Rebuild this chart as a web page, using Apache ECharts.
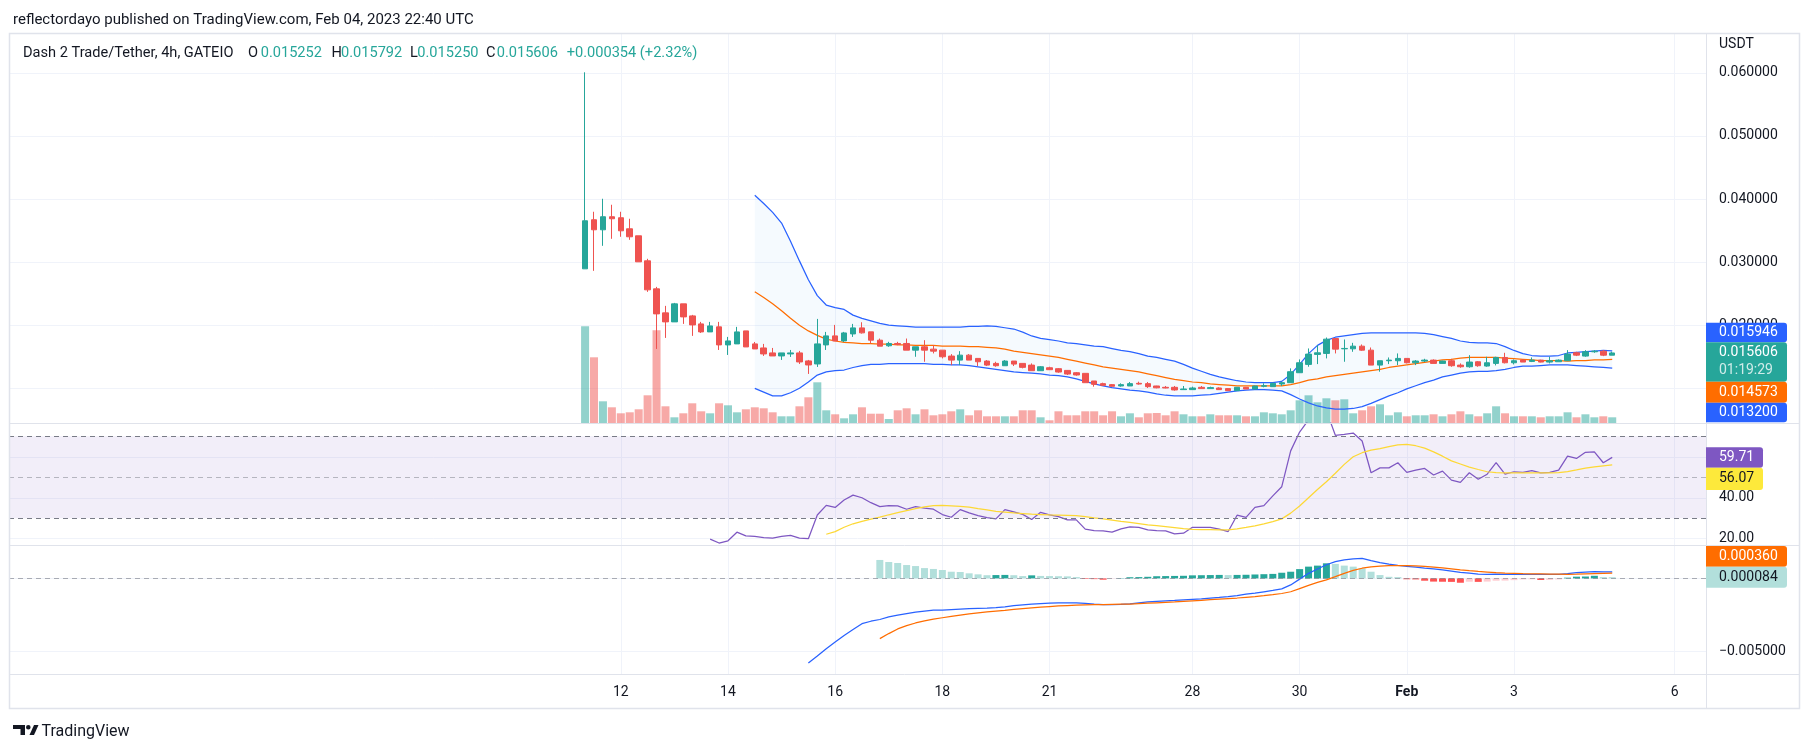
<!DOCTYPE html>
<html><head><meta charset="utf-8">
<script src="https://cdn.jsdelivr.net/npm/echarts@6/dist/echarts.min.js"></script>
<style>html,body{margin:0;padding:0;background:#fff;}#c{width:1814px;height:753px;}</style>
</head><body><div id="c"></div>
<script>
// ---------- DATA ----------
const opens = [0.02894,0.03672,0.03513,0.03720,0.03704,0.03529,0.03418,0.03021,0.02577,0.02196,
0.02053,0.02339,0.02148,0.02021,0.01894,0.01974,0.01688,0.01704,0.01910,0.01704,
0.01640,0.01561,0.01513,0.01545,0.01561,0.01434,0.01386,0.01688,0.01831,0.01751,
0.01862,0.01958,0.01895,0.01763,0.01674,0.01711,0.01711,0.01605,0.01658,0.01621,
0.01605,0.01511,0.01447,0.01526,0.01474,0.01432,0.01395,0.01358,0.01432,0.01395,
0.01368,0.01279,0.01326,0.01311,0.01284,0.01247,0.01237,0.01116,0.01074,0.01058,
0.01037,0.01037,0.01079,0.01074,0.01037,0.01016,0.01016,0.00979,0.00979,0.01016,
0.00995,0.01005,0.00995,0.00963,0.01016,0.00989,0.01032,0.01026,0.01068,0.01089,
0.01247,0.01379,0.01537,0.01553,0.01789,0.01626,0.01626,0.01668,0.01605,0.01368,
0.01437,0.01437,0.01474,0.01405,0.01432,0.01447,0.01395,0.01437,0.01368,0.01342,
0.01421,0.01353,0.01395,0.01489,0.01405,0.01447,0.01426,0.01447,0.01416,0.01421,
0.01437,0.01563,0.01511,0.01579,0.01589,0.015252];
const highs = [0.06010,0.03799,0.04005,0.03910,0.03799,0.03688,0.03418,0.03053,0.02608,0.02307,
0.02354,0.02339,0.02164,0.02053,0.02053,0.02053,0.01815,0.01974,0.01910,0.01735,
0.01704,0.01640,0.01561,0.01608,0.01593,0.01450,0.02100,0.01894,0.02005,0.01894,
0.02021,0.02047,0.01895,0.01789,0.01737,0.01737,0.01789,0.01658,0.01763,0.01684,
0.01605,0.01542,0.01589,0.01542,0.01474,0.01447,0.01421,0.01447,0.01432,0.01395,
0.01395,0.01353,0.01342,0.01321,0.01290,0.01258,0.01237,0.01116,0.01089,0.01068,
0.01079,0.01100,0.01105,0.01100,0.01040,0.01037,0.01037,0.01037,0.01026,0.01037,
0.01026,0.01016,0.01000,0.01016,0.01021,0.01042,0.01079,0.01089,0.01105,0.01316,
0.01458,0.01632,0.01684,0.01805,0.01789,0.01774,0.01721,0.01695,0.01647,0.01437,
0.01489,0.01553,0.01474,0.01447,0.01468,0.01458,0.01437,0.01468,0.01395,0.01526,
0.01432,0.01500,0.01500,0.01563,0.01458,0.01458,0.01489,0.01453,0.01500,0.01458,
0.01605,0.01579,0.01605,0.01605,0.01605,0.015792];
const lows = [0.02894,0.02862,0.03259,0.03370,0.03402,0.03354,0.03005,0.02529,0.01624,0.01799,
0.02053,0.02021,0.01831,0.01878,0.01894,0.01608,0.01529,0.01704,0.01656,0.01624,
0.01513,0.01513,0.01450,0.01497,0.01386,0.01228,0.01339,0.01608,0.01751,0.01735,
0.01815,0.01868,0.01711,0.01668,0.01658,0.01684,0.01605,0.01500,0.01421,0.01553,
0.01474,0.01368,0.01368,0.01447,0.01353,0.01353,0.01342,0.01358,0.01353,0.01316,
0.01279,0.01279,0.01290,0.01247,0.01211,0.01200,0.01089,0.01026,0.01037,0.01026,
0.01026,0.01037,0.01058,0.01005,0.01000,0.01000,0.00963,0.00979,0.00979,0.00995,
0.00995,0.00974,0.00963,0.00963,0.00989,0.00989,0.01016,0.01026,0.01037,0.01089,
0.01247,0.01342,0.01384,0.01474,0.01553,0.01421,0.01579,0.01595,0.01368,0.01263,
0.01384,0.01368,0.01395,0.01368,0.01416,0.01395,0.01395,0.01342,0.01326,0.01326,
0.01342,0.01342,0.01363,0.01395,0.01379,0.01416,0.01416,0.01411,0.01395,0.01421,
0.01437,0.01511,0.01500,0.01563,0.01510,0.015250];
const closes = [0.03656,0.03513,0.03720,0.03688,0.03497,0.03402,0.03005,0.02561,0.02180,0.02053,
0.02339,0.02132,0.02005,0.01894,0.01989,0.01688,0.01751,0.01894,0.01656,0.01624,
0.01545,0.01513,0.01561,0.01561,0.01418,0.01370,0.01704,0.01831,0.01751,0.01878,
0.01958,0.01879,0.01763,0.01668,0.01711,0.01695,0.01605,0.01658,0.01605,0.01589,
0.01500,0.01447,0.01526,0.01447,0.01421,0.01368,0.01358,0.01432,0.01384,0.01332,
0.01279,0.01342,0.01295,0.01258,0.01226,0.01211,0.01089,0.01063,0.01047,0.01032,
0.01058,0.01074,0.01068,0.01026,0.01008,0.01005,0.00974,0.00989,0.01005,0.00995,
0.01011,0.00979,0.00963,0.01016,0.00989,0.01037,0.01042,0.01079,0.01089,0.01263,
0.01405,0.01542,0.01563,0.01779,0.01621,0.01632,0.01668,0.01605,0.01368,0.01437,
0.01447,0.01474,0.01405,0.01432,0.01447,0.01395,0.01432,0.01358,0.01342,0.01416,
0.01358,0.01405,0.01489,0.01405,0.01437,0.01416,0.01447,0.01416,0.01437,0.01447,
0.01542,0.01526,0.01579,0.01589,0.015252,0.015606];
// volume (relative units, no scale shown)
const volumes = [96.7,65.7,21.7,15.7,9.7,10.7,13.7,27.7,92.7,16.7,
5.7,9.7,19.7,11.7,9.7,19.7,17.7,10.7,13.7,15.7,
14.7,10.7,6.7,6.7,16.7,25.7,40.7,12.7,8.7,4.7,
8.7,15.7,9.3,9.3,4.0,12.7,14.7,8.7,13.7,7.7,
8.7,11.7,13.7,7.7,12.7,6.7,6.7,6.7,6.7,12.7,
12.7,5.7,2.7,11.7,7.7,7.7,11.7,11.7,7.7,11.7,
6.7,9.7,5.7,9.7,10.0,7.7,11.7,8.7,6.7,6.7,
8.7,7.7,7.7,7.7,6.7,6.7,10.7,9.7,8.7,12.7,
22.7,27.7,20.7,24.7,22.7,23.7,9.7,12.7,16.7,18.7,
7.7,10.7,6.7,7.7,7.7,8.7,6.7,8.7,11.7,8.7,
6.7,9.7,16.7,9.7,6.7,6.7,6.7,5.7,6.7,6.7,
10.7,5.7,8.7,5.7,6.7,5.7];
// Bollinger bands, from bar 19
const bbStart = 19;
const bbUpper = [0.0406,0.0393,0.0379,0.0362,0.0333,0.0302,0.0272,0.0247,0.0232,0.0228,
0.0225,0.0216,0.0211,0.0207,0.0203,0.0200,0.0199,0.0198,0.0197,0.0197,
0.0197,0.0197,0.0197,0.0197,0.0198,0.0198,0.0199,0.0198,0.0196,0.0194,
0.0189,0.0183,0.0179,0.0177,0.0175,0.0172,0.0171,0.0169,0.0167,0.0166,
0.0163,0.0160,0.0158,0.0155,0.0151,0.0149,0.0146,0.0143,0.0138,0.0132,
0.0127,0.0122,0.0118,0.0115,0.0112,0.0110,0.0109,0.0109,0.0109,0.0111,
0.0122,0.0138,0.0155,0.0168,0.0176,0.0181,0.0183,0.0185,0.0187,0.0188,
0.0188,0.0188,0.0188,0.0188,0.0188,0.0187,0.0185,0.0182,0.0179,0.0175,
0.0173,0.0172,0.0172,0.0171,0.0166,0.0160,0.0155,0.0152,0.0151,0.0151,
0.0152,0.0156,0.0157,0.0158,0.0159,0.0160,0.015946];
const bbBasis = [0.0253,0.0244,0.0234,0.0223,0.0211,0.0200,0.0191,0.0184,0.0178,0.0175,
0.0173,0.0172,0.0171,0.0171,0.0170,0.0170,0.0169,0.0169,0.0168,0.0168,
0.0168,0.0167,0.0167,0.0167,0.0166,0.0166,0.0165,0.0164,0.0162,0.0159,
0.0157,0.0155,0.0153,0.0151,0.0149,0.0146,0.0143,0.0140,0.0137,0.0134,
0.0132,0.0130,0.0128,0.0126,0.0123,0.0120,0.0117,0.0114,0.0112,0.0110,
0.0109,0.0107,0.0106,0.0105,0.0104,0.0104,0.0104,0.0104,0.0104,0.0104,
0.0106,0.0109,0.0113,0.0115,0.0118,0.0120,0.0122,0.0124,0.0126,0.0128,
0.0130,0.0133,0.0135,0.0137,0.0139,0.0141,0.0143,0.0145,0.0146,0.0148,
0.0149,0.0149,0.0149,0.0149,0.0148,0.0147,0.0146,0.0145,0.0144,0.0144,
0.0144,0.0143,0.0144,0.0144,0.0145,0.0145,0.014573];
const bbLower = [0.0100,0.0094,0.0088,0.0088,0.0093,0.0100,0.0110,0.0121,0.0126,0.0128,
0.0129,0.0133,0.0136,0.0138,0.0138,0.0139,0.0139,0.0139,0.0139,0.0139,
0.0138,0.0138,0.0137,0.0137,0.0136,0.0134,0.0132,0.0130,0.0128,0.0126,
0.0125,0.0124,0.0123,0.0121,0.0120,0.0118,0.0115,0.0111,0.0107,0.0104,
0.0101,0.0099,0.0097,0.0096,0.0094,0.0091,0.0089,0.0088,0.0088,0.0088,
0.0089,0.0090,0.0092,0.0094,0.0096,0.0097,0.0098,0.0098,0.0097,0.0096,
0.0090,0.0083,0.0077,0.0072,0.0069,0.0067,0.0067,0.0068,0.0071,0.0076,
0.0082,0.0088,0.0093,0.0099,0.0104,0.0109,0.0113,0.0118,0.0121,0.0124,
0.0126,0.0127,0.0127,0.0128,0.0130,0.0133,0.0135,0.0135,0.0136,0.0137,
0.0137,0.0137,0.0136,0.0135,0.0134,0.0133,0.0132];
// RSI from bar 14, RSI-based MA from bar 27
const rsiStart = 14;
const rsiValues = [19.8,17.9,19.0,23.2,21.4,21.1,20.6,20.3,21.1,21.6,
20.3,20.0,31.6,36.3,35.3,38.9,41.3,40.0,37.6,35.7,
36.2,36.0,34.4,35.7,34.9,34.4,31.8,30.5,34.2,32.6,
31.3,30.3,29.7,34.2,33.1,31.9,29.4,32.9,31.6,30.8,
29.2,29.2,24.7,24.0,23.8,23.2,24.8,25.8,25.5,24.3,
24.0,23.8,22.4,22.7,25.6,25.5,25.5,24.7,23.5,31.5,
30.4,35.3,36.2,40.9,45.4,62.9,72.1,78.0,80.0,82.5,
70.5,71.0,71.6,67.7,52.2,54.6,54.6,57.1,52.4,53.5,
54.3,51.1,53.0,48.6,47.5,52.2,49.0,51.5,57.1,51.5,
52.7,52.4,53.2,52.2,52.4,53.5,60.3,59.2,62.2,62.4,
57.1,59.71];
const rsiMaStart = 27;
const rsiMa = [22.2,23.5,25.6,27.3,28.5,29.6,30.6,31.7,32.7,33.7,
34.7,35.6,36.2,36.3,36.1,35.8,35.4,34.7,34.1,33.4,
33.0,32.6,32.3,32.0,31.8,31.6,31.5,31.4,31.3,30.8,
30.2,29.7,29.1,28.5,28.0,27.4,26.8,26.4,25.9,25.4,
24.9,24.6,24.5,24.4,24.3,24.3,24.8,25.5,26.3,27.3,
28.4,29.7,32.5,36.0,40.0,44.0,47.8,52.0,56.3,60.0,
62.0,63.3,64.0,65.0,65.8,66.1,65.4,64.2,62.4,60.3,
58.0,56.5,55.0,53.8,52.7,52.3,52.2,52.2,52.1,52.1,
52.1,52.2,52.3,52.8,53.6,54.5,55.1,55.6,56.07];
// MACD
const macdStart = 25;
const macdLine = [-0.00583,-0.00535,-0.00484,-0.00438,-0.00393,-0.00352,-0.00312,-0.00295,-0.00283,-0.00265,
-0.00253,-0.00243,-0.00233,-0.00225,-0.00219,-0.00218,-0.00215,-0.00212,-0.00209,-0.00207,
-0.00205,-0.00202,-0.00196,-0.00188,-0.00182,-0.00177,-0.00174,-0.00171,-0.00169,-0.00168,
-0.00168,-0.00172,-0.00178,-0.00181,-0.00181,-0.00179,-0.00175,-0.00168,-0.00162,-0.00158,
-0.00155,-0.00152,-0.00148,-0.00144,-0.00141,-0.00136,-0.00131,-0.00125,-0.00118,-0.00109,
-0.00101,-0.00092,-0.00083,-0.00072,-0.00045,-0.00005,0.00035,0.00065,0.00094,0.00115,
0.00127,0.00135,0.00138,0.00122,0.00108,0.00098,0.00090,0.00083,0.00077,0.00071,
0.00066,0.00058,0.00050,0.00042,0.00036,0.00030,0.00028,0.00029,0.00028,0.00027,
0.00027,0.00028,0.00027,0.00027,0.00028,0.00033,0.00039,0.00043,0.00046,0.00045,
0.000444];
const signalStart = 33;
const signalLine = [-0.00415,-0.00380,-0.00348,-0.00325,-0.00307,-0.00292,-0.00281,-0.00271,-0.00262,-0.00253,
-0.00245,-0.00238,-0.00231,-0.00225,-0.00220,-0.00214,-0.00208,-0.00203,-0.00198,-0.00194,
-0.00190,-0.00187,-0.00184,-0.00182,-0.00181,-0.00180,-0.00179,-0.00178,-0.00177,-0.00174,
-0.00171,-0.00168,-0.00165,-0.00162,-0.00158,-0.00154,-0.00151,-0.00147,-0.00143,-0.00139,
-0.00135,-0.00130,-0.00125,-0.00119,-0.00112,-0.00104,-0.00092,-0.00070,-0.00048,-0.00028,
-0.00010,0.00012,0.00035,0.00055,0.00070,0.00080,0.00085,0.00088,0.00088,0.00088,
0.00086,0.00083,0.00078,0.00072,0.00066,0.00059,0.00053,0.00048,0.00044,0.00040,
0.00037,0.00035,0.00033,0.00032,0.00031,0.00030,0.00029,0.00028,0.00029,0.00031,
0.00033,0.00035,0.000360];
const histStart = 33;
const histValues = [0.00127,0.00113,0.00106,0.00092,0.00085,0.00071,0.00065,0.00058,0.00046,0.00044,
0.00035,0.00028,0.00022,0.00023,0.00024,0.00022,0.00016,0.00021,0.00017,0.00016,
0.00015,0.00014,0.00009,-0.00004,-0.00005,-0.00009,-0.00002,0.00002,0.00008,0.00009,
0.00011,0.00015,0.00016,0.00017,0.00018,0.00021,0.00022,0.00023,0.00024,0.00023,
0.00024,0.00025,0.00027,0.00029,0.00031,0.00039,0.00046,0.00064,0.00081,0.00088,
0.00104,0.00100,0.00088,0.00081,0.00069,0.00046,0.00023,0.00011,0.00009,-0.00006,
-0.00007,-0.00016,-0.00022,-0.00023,-0.00024,-0.00030,-0.00023,-0.00024,-0.00022,-0.00016,
-0.00015,-0.00012,-0.00007,-0.00006,-0.00011,-0.00010,-0.00007,0.00005,0.00012,0.00013,
0.00018,0.00009,0.000084];
// time axis labels (bar index -> label)
const tickBars = [4,16,28,40,52,68,80,92,104,122];
const tickLabels = ['12','14','16','18','21','28','30','Feb','3','6'];
const priceGridValues = [0.01,0.02,0.03,0.04,0.05,0.06];
const priceLabelValues = [0.02,0.03,0.04,0.05,0.06];
const rsiTicks = [20,40,60];
const macdTicks = [-0.005,0];
const headerText = 'reflectordayo published on TradingView.com, Feb 04, 2023 22:40 UTC';
const symbolText = 'Dash 2 Trade/Tether, 4h, GATEIO';
const countdownText = '01:19:29';

// ---------- BUILD ----------
const PAD = 64, TOTAL = 190;
const FONT = 'Roboto, "Liberation Sans", Arial, sans-serif';
const GRID = '#f0f3fa', SEP = '#e0e3eb', TXT = '#131722';
const UP = '#26a69a', DOWN = '#ef5350';
const N = closes.length;
const cats = Array.from({length: TOTAL}, (_, c) => String(c - PAD));
function place(arr, start) {
  const out = new Array(TOTAL).fill('-');
  arr.forEach((v, k) => { out[PAD + start + k] = v; });
  return out;
}
const tickMap = new Map(tickBars.map((b, k) => [b, tickLabels[k]]));
const isTick = (idx) => tickMap.has(idx - PAD);

const candleData = cats.map((_, c) => {
  const i = c - PAD;
  return (i >= 0 && i < N) ? [opens[i], closes[i], lows[i], highs[i]] : ['-', '-', '-', '-'];
});
const volData = place(volumes.map((v, i) => ({
  value: v, itemStyle: {color: closes[i] >= opens[i] ? 'rgba(38,166,154,0.5)' : 'rgba(239,83,80,0.5)'}
})), 0);
const histData = place(histValues.map((h, k) => {
  const p = k > 0 ? histValues[k - 1] : null;
  let col;
  if (h >= 0) col = (p !== null && h > p) ? '#26a69a' : '#b2dfdb';
  else col = (p !== null && h < p) ? '#ff5252' : '#ffcdd2';
  return {value: h, itemStyle: {color: col}};
}), histStart);

function xAxisFor(gridIndex, labels, split) {
  return {
    type: 'category', gridIndex, data: cats, boundaryGap: true,
    axisLine: {show: false}, axisTick: {show: false},
    axisLabel: labels ? {
      show: true, interval: (idx) => isTick(idx), margin: 11,
      color: TXT, fontSize: 14, fontFamily: FONT,
      formatter: (v) => { const l = tickMap.get(Number(v)); return l === 'Feb' ? '{b|Feb}' : (l || ''); },
      rich: {b: {fontWeight: 'bold', fontSize: 14, fontFamily: FONT, color: TXT}}
    } : {show: false},
    splitLine: {show: split, interval: (idx) => isTick(idx), alignWithLabel: true, lineStyle: {color: GRID, width: 1}}
  };
}
function yAxisFor(gridIndex, min, max, gridVals, labelVals, fmt) {
  return {
    type: 'value', gridIndex, position: 'right', min, max, scale: true,
    axisLine: {show: false},
    axisTick: {show: false, customValues: gridVals},
    axisLabel: {show: true, customValues: labelVals, formatter: fmt, color: TXT, fontSize: 14, fontFamily: FONT, margin: 13},
    splitLine: {show: true, lineStyle: {color: GRID, width: 1}}
  };
}
const lineS = (name, xi, data, color, z) => ({
  name, type: 'line', xAxisIndex: xi, yAxisIndex: xi, data, symbol: 'none', showSymbol: false,
  lineStyle: {color, width: 1.25}, itemStyle: {color}, z, silent: true, animation: false
});

const last = (a) => a[a.length - 1];
const chg = closes[N - 1] - closes[N - 2];
const chgText = (chg >= 0 ? '+' : '\u2212') + Math.abs(chg).toFixed(6) + ' (' + (chg >= 0 ? '+' : '\u2212') + Math.abs(chg / closes[N - 2] * 100).toFixed(2) + '%)';

function txt(x, y, text, fill, size, extra) {
  return Object.assign({type: 'text', x, y, z: 120, silent: true,
    style: {text, fill, font: (size || 14) + 'px ' + FONT, textAlign: 'left', align: 'left', textVerticalAlign: 'middle', verticalAlign: 'middle'}}, extra || {});
}
function box(y, h, w, fill) {
  return {type: 'rect', z: 110, silent: true, shape: {x: 1706, y, width: w, height: h, r: [0, 3, 3, 0]}, style: {fill}};
}
function hline(y, x1, x2) { return {type: 'line', z: 100, silent: true, shape: {x1, y1: y, x2, y2: y}, style: {stroke: SEP, lineWidth: 1}}; }

const LEG = 14.6;
const graphics = [
  txt(13, 20, headerText, TXT, 15),
  {type: 'rect', z: 100, silent: true, shape: {x: 9.5, y: 33.5, width: 1790, height: 675}, style: {fill: 'none', stroke: SEP, lineWidth: 1.5}},
  {type: 'line', z: 100, silent: true, shape: {x1: 1706.5, y1: 34, x2: 1706.5, y2: 708}, style: {stroke: SEP, lineWidth: 1}},
  hline(423.5, 9.5, 1799.5), hline(545.5, 9.5, 1799.5), hline(674.5, 9.5, 1799.5),
  txt(23, 53, symbolText, TXT, LEG),
  txt(248, 53, 'O', TXT, LEG), txt(260.7, 53, opens[N - 1].toFixed(6), UP, LEG),
  txt(331.5, 53, 'H', TXT, LEG), txt(341, 53, highs[N - 1].toFixed(6), UP, LEG),
  txt(410, 53, 'L', TXT, LEG), txt(417.3, 53, lows[N - 1].toFixed(6), UP, LEG),
  txt(486, 53, 'C', TXT, LEG), txt(496.7, 53, closes[N - 1].toFixed(6), UP, LEG),
  txt(566.7, 53, chgText, UP, LEG),
  txt(1719, 44, 'USDT', TXT, 14),
  box(322.7, 19.6, 81, '#2962ff'), txt(1719, 332.5, last(bbUpper).toFixed(6), '#ffffff', 14),
  box(342.3, 39.4, 81, '#26a69a'), txt(1719, 352.5, closes[N - 1].toFixed(6), '#ffffff', 14),
  txt(1719, 370.7, countdownText, 'rgba(255,255,255,0.78)', 14),
  box(381.7, 21, 81, '#ff6d00'), txt(1719, 392.2, last(bbBasis).toFixed(6), '#ffffff', 14),
  box(402.7, 19.6, 81, '#2962ff'), txt(1719, 412.5, last(bbLower).toFixed(6), '#ffffff', 14),
  box(447.3, 20.4, 57, '#7e57c2'), txt(1719, 457.5, last(rsiValues).toFixed(2), '#ffffff', 14),
  box(467.7, 22.3, 57, '#fde93b'), txt(1719, 478.9, last(rsiMa).toFixed(2), TXT, 14),
  box(546, 20.7, 81, '#ff6d00'), txt(1719, 556.4, last(signalLine).toFixed(6), '#ffffff', 14),
  box(566.7, 21, 81, '#b2dfdb'), txt(1719, 577.2, last(histValues).toFixed(6), TXT, 14),
  // TradingView mark
  {type: 'rect', z: 120, silent: true, shape: {x: 13, y: 725, width: 12, height: 4}, style: {fill: '#131722'}},
  {type: 'rect', z: 120, silent: true, shape: {x: 20.5, y: 725, width: 4.5, height: 10}, style: {fill: '#131722'}},
  {type: 'circle', z: 120, silent: true, shape: {cx: 28.3, cy: 727.3, r: 2.3}, style: {fill: '#131722'}},
  {type: 'polygon', z: 120, silent: true, shape: {points: [[29.5, 735], [34, 725], [38.5, 725], [34, 735]]}, style: {fill: '#131722'}},
  txt(41.5, 731.5, 'TradingView', TXT, 16)
];

const option = {
  animation: false,
  backgroundColor: '#ffffff',
  grid: [
    {left: 9, right: 108, top: 34, height: 389, outerBoundsMode: 'none'},
    {left: 9, right: 108, top: 323, height: 100, outerBoundsMode: 'none'},
    {left: 9, right: 108, top: 423, height: 122.7, outerBoundsMode: 'none'},
    {left: 9, right: 108, top: 545.7, height: 128.3, outerBoundsMode: 'none'}
  ],
  xAxis: [xAxisFor(0, false, true), xAxisFor(1, false, false), xAxisFor(2, false, true), xAxisFor(3, true, true)],
  yAxis: [
    yAxisFor(0, 0.0045, 0.06617, priceGridValues, priceLabelValues, (v) => v.toFixed(6)),
    {type: 'value', gridIndex: 1, min: 0, max: 100, show: false, splitLine: {show: false}},
    yAxisFor(2, 16.6, 76.5, rsiTicks, rsiTicks, (v) => v.toFixed(2)),
    yAxisFor(3, -0.006584, 0.002252, macdTicks, macdTicks, (v) => (v < 0 ? '\u2212' : '') + Math.abs(v).toFixed(6))
  ],
  graphic: graphics,
  series: [
    {name: 'Volume', type: 'bar', xAxisIndex: 1, yAxisIndex: 1, data: volData, barWidth: 8, z: 1, silent: true},
    {name: 'BB base', type: 'line', xAxisIndex: 0, yAxisIndex: 0, stack: 'bb', data: place(bbLower, bbStart),
      symbol: 'none', lineStyle: {opacity: 0}, z: 2, silent: true},
    {name: 'BB fill', type: 'line', xAxisIndex: 0, yAxisIndex: 0, stack: 'bb',
      data: place(bbUpper.map((u, k) => +(u - bbLower[k]).toFixed(6)), bbStart),
      symbol: 'none', lineStyle: {opacity: 0}, areaStyle: {color: 'rgba(33,150,243,0.06)'}, z: 2, silent: true},
    lineS('BB upper', 0, place(bbUpper, bbStart), '#2962ff', 3),
    lineS('BB lower', 0, place(bbLower, bbStart), '#2962ff', 3),
    lineS('BB basis', 0, place(bbBasis, bbStart), '#ff6d00', 3),
    {name: 'Price', type: 'candlestick', xAxisIndex: 0, yAxisIndex: 0, data: candleData, barWidth: 6, z: 4, silent: true,
      itemStyle: {color: UP, color0: DOWN, borderColor: UP, borderColor0: DOWN, borderWidth: 1}},
    Object.assign(lineS('RSI', 2, place(rsiValues, rsiStart), '#7e57c2', 4), {
      markArea: {silent: true, itemStyle: {color: 'rgba(126,87,194,0.1)'}, data: [[{yAxis: 30}, {yAxis: 70}]]},
      markLine: {silent: true, symbol: ['none', 'none'], label: {show: false},
        data: [
          {yAxis: 70, lineStyle: {color: '#787b86', type: [5, 4], width: 1}},
          {yAxis: 50, lineStyle: {color: 'rgba(120,123,134,0.5)', type: [5, 4], width: 1}},
          {yAxis: 30, lineStyle: {color: '#787b86', type: [5, 4], width: 1}}
        ]}
    }),
    lineS('RSI MA', 2, place(rsiMa, rsiMaStart), '#fdd835', 4),
    {name: 'Histogram', type: 'bar', xAxisIndex: 3, yAxisIndex: 3, data: histData, barWidth: 7, z: 2, silent: true,
      markLine: {silent: true, symbol: ['none', 'none'], label: {show: false},
        data: [{yAxis: 0, lineStyle: {color: 'rgba(120,123,134,0.6)', type: [5, 4], width: 1}}]}},
    lineS('MACD', 3, place(macdLine, macdStart), '#2962ff', 4),
    lineS('Signal', 3, place(signalLine, signalStart), '#ff6d00', 4)
  ]
};
const chart = echarts.init(document.getElementById('c'), null, {renderer: 'canvas'});
chart.setOption(option);
</script></body></html>
